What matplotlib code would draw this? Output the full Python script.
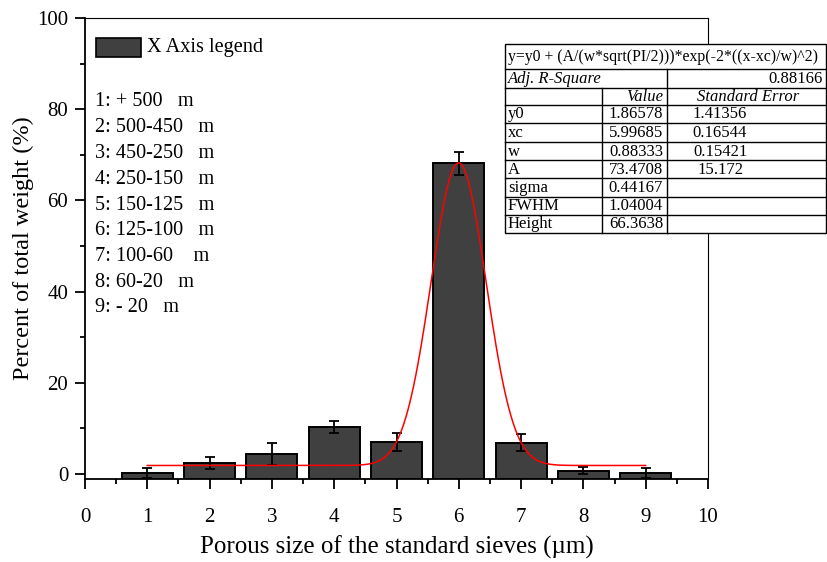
import numpy as np
import matplotlib
matplotlib.use("Agg")
import matplotlib.pyplot as plt
from matplotlib.patches import Rectangle

plt.rcParams['font.family'] = ['Liberation Serif', 'DejaVu Serif']
plt.rcParams['mathtext.fontset'] = 'stix'

# ---- data ----
positions = [1, 2, 3, 4, 5, 6, 7, 8, 9]
percent = [0.2, 2.4, 4.3, 10.35, 7.0, 68.1, 6.9, 0.7, 0.25]
errors = [1.1, 1.3, 2.4, 1.3, 2.0, 2.6, 1.9, 0.75, 1.1]
legend_lines = ["1: + 500   m", "2: 500-450   m", "3: 450-250   m", "4: 250-150   m",
                "5: 150-125   m", "6: 125-100   m", "7: 100-60    m", "8: 60-20   m",
                "9: - 20   m"]
# Gaussian fit parameters (from the fit table)
fit_names = ["y0", "xc", "w", "A", "sigma", "FWHM", "Height"]
fit_values = ["1.86578", "5.99685", "0.88333", "73.4708", "0.44167", "1.04004", "66.3638"]
fit_errors = ["1.41356", "0.16544", "0.15421", "15.172", "", "", ""]
adj_r2 = "0.88166"
y0, xc, w, A = 1.86578, 5.99685, 0.88333, 73.4708

W, H = 827, 562
fig = plt.figure(figsize=(W/100, H/100), dpi=100)
ax = fig.add_axes([85/W, 1-479/H, (708-85)/W, (479-18)/H])

ybot = -1.1
ax.set_xlim(0, 10)
ax.set_ylim(ybot, 100)

ax.bar(positions, [p - ybot for p in percent], bottom=ybot, width=0.82,
       color='#404040', edgecolor='black', linewidth=1.4, zorder=2)
ax.errorbar(positions, percent, yerr=errors, fmt='none', ecolor='black',
            elinewidth=1.3, capsize=3.5, capthick=1.3, zorder=3)

xf = np.linspace(1, 9, 400)
yf = y0 + (A/(w*np.sqrt(np.pi/2)))*np.exp(-2*((xf-xc)/w)**2)
ax.plot(xf, yf, color='red', lw=1.1, zorder=4)

ax.set_xticks(range(0, 11))
ax.set_xticks(np.arange(0.5, 10, 1), minor=True)
ax.set_yticks(range(0, 101, 20))
ax.set_yticks(range(10, 100, 20), minor=True)
ax.tick_params(which='major', direction='out', length=7, width=1.3, labelsize=15,
               top=False, right=False)
ax.tick_params(axis='x', which='major', pad=14)
ax.tick_params(axis='y', which='major', pad=5)
ax.tick_params(which='minor', direction='out', length=3.8, width=1.3,
               top=False, right=False)
for s in ax.spines.values():
    s.set_linewidth(1.3)
ax.spines['top'].set_linewidth(0.8)
ax.spines['right'].set_linewidth(0.8)

ax.set_xlabel("Porous size of the standard sieves (\u00b5m)", fontsize=18, labelpad=6)
ax.set_ylabel("Percent of total weight (%)", fontsize=17.5, labelpad=2)

# overlay in pixel coordinates
ov = fig.add_axes([0, 0, 1, 1], zorder=10)
ov.set_xlim(0, W)
ov.set_ylim(H, 0)
ov.axis('off')

# legend
ov.add_patch(Rectangle((96, 38), 45, 19, facecolor='#404040', edgecolor='black', lw=1.2))
ov.text(147, 47.5, "X Axis legend", fontsize=14.6, va='center', ha='left')
for i, t in enumerate(legend_lines):
    ov.text(95, 102 + i*25.75, t, fontsize=14.6, va='center', ha='left')

# fit table
cols = [505, 602, 667, 826]
rows = [44, 69, 88, 105, 123, 142, 160, 178, 197, 215, 233]
ov.add_patch(Rectangle((cols[0], rows[0]), cols[3]-cols[0], rows[-1]-rows[0],
                       facecolor='white', edgecolor='black', lw=1.0))
for r in rows[1:-1]:
    ov.plot([cols[0], cols[3]], [r, r], color='black', lw=1.0)
ov.plot([cols[1], cols[1]], [rows[2], rows[-1]], color='black', lw=1.0)
ov.plot([cols[2], cols[2]], [rows[1], rows[-1]], color='black', lw=1.0)

fs = 12
def mid(i):
    return (rows[i] + rows[i+1]) / 2 + 0.5
ov.text(cols[0]+3, mid(0), "y=y0 + (A/(w*sqrt(PI/2)))*exp(-2*((x-xc)/w)^2)",
        fontsize=11.3, va='center', ha='left')
ov.text(cols[0]+3, mid(1), "Adj. R-Square", fontsize=fs, style='italic', va='center', ha='left')
ov.text(cols[3]-3, mid(1), adj_r2, fontsize=fs, va='center', ha='right')
ov.text(cols[2]-4, mid(2), "Value", fontsize=fs, style='italic', va='center', ha='right')
ov.text(748, mid(2), "Standard Error", fontsize=fs, style='italic',
        va='center', ha='center')
for i, (n, v, e) in enumerate(zip(fit_names, fit_values, fit_errors)):
    ov.text(cols[0]+3, mid(3+i), n, fontsize=fs, va='center', ha='left')
    ov.text(cols[2]-4, mid(3+i), v, fontsize=fs, va='center', ha='right')
    ov.text(720, mid(3+i), e, fontsize=fs, va='center', ha='center')

fig.savefig("out.png", dpi=100)
